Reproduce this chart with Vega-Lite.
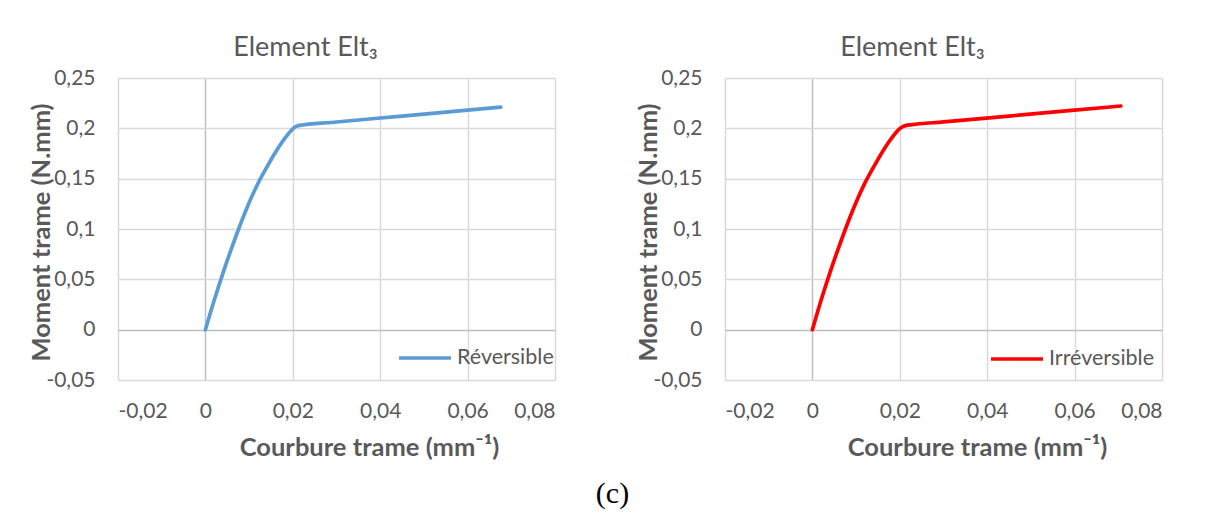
{
  "$schema": "https://vega.github.io/schema/vega-lite/v6.json",
  "background": "white",
  "padding": {"left": 29, "top": 34, "right": 5, "bottom": 5},
  "datasets": {
    "curves": [
      {"serie": "Réversible", "courbure": 0, "moment": 0},
      {"serie": "Réversible", "courbure": 0.002, "moment": 0.029},
      {"serie": "Réversible", "courbure": 0.004, "moment": 0.056},
      {"serie": "Réversible", "courbure": 0.006, "moment": 0.081},
      {"serie": "Réversible", "courbure": 0.008, "moment": 0.1045},
      {"serie": "Réversible", "courbure": 0.01, "moment": 0.126},
      {"serie": "Réversible", "courbure": 0.012, "moment": 0.145},
      {"serie": "Réversible", "courbure": 0.014, "moment": 0.161},
      {"serie": "Réversible", "courbure": 0.016, "moment": 0.176},
      {"serie": "Réversible", "courbure": 0.018, "moment": 0.189},
      {"serie": "Réversible", "courbure": 0.02, "moment": 0.1995},
      {"serie": "Réversible", "courbure": 0.0206, "moment": 0.2016},
      {"serie": "Réversible", "courbure": 0.0213, "moment": 0.2027},
      {"serie": "Réversible", "courbure": 0.0222, "moment": 0.2033},
      {"serie": "Réversible", "courbure": 0.03, "moment": 0.2063},
      {"serie": "Réversible", "courbure": 0.045, "moment": 0.2122},
      {"serie": "Réversible", "courbure": 0.06, "moment": 0.218},
      {"serie": "Réversible", "courbure": 0.0676, "moment": 0.221},
      {"serie": "Irréversible", "courbure": 0, "moment": 0},
      {"serie": "Irréversible", "courbure": 0.002, "moment": 0.0295},
      {"serie": "Irréversible", "courbure": 0.004, "moment": 0.0565},
      {"serie": "Irréversible", "courbure": 0.006, "moment": 0.0815},
      {"serie": "Irréversible", "courbure": 0.008, "moment": 0.105},
      {"serie": "Irréversible", "courbure": 0.01, "moment": 0.1265},
      {"serie": "Irréversible", "courbure": 0.012, "moment": 0.1455},
      {"serie": "Irréversible", "courbure": 0.014, "moment": 0.1615},
      {"serie": "Irréversible", "courbure": 0.016, "moment": 0.1765},
      {"serie": "Irréversible", "courbure": 0.018, "moment": 0.1895},
      {"serie": "Irréversible", "courbure": 0.0201, "moment": 0.2},
      {"serie": "Irréversible", "courbure": 0.0208, "moment": 0.2019},
      {"serie": "Irréversible", "courbure": 0.0215, "moment": 0.2029},
      {"serie": "Irréversible", "courbure": 0.0225, "moment": 0.2035},
      {"serie": "Irréversible", "courbure": 0.03, "moment": 0.2064},
      {"serie": "Irréversible", "courbure": 0.045, "moment": 0.2122},
      {"serie": "Irréversible", "courbure": 0.06, "moment": 0.2181},
      {"serie": "Irréversible", "courbure": 0.0706, "moment": 0.2222}
    ]
  },
  "title": {
    "text": "(c)",
    "orient": "bottom",
    "font": "Liberation Serif",
    "fontSize": 30,
    "fontWeight": "normal",
    "color": "black",
    "anchor": "middle",
    "dx": 17,
    "offset": 18
  },
  "config": {
    "font": "Lato",
    "view": {"stroke": null},
    "concat": {"spacing": 81},
    "title": {"font": "Lato", "fontSize": 27, "fontWeight": "normal", "color": "#595959"},
    "axis": {
      "domain": false,
      "ticks": false,
      "grid": true,
      "gridWidth": 1.5,
      "labelFont": "Lato",
      "labelFontSize": 21,
      "labelColor": "#595959",
      "titleFont": "Lato",
      "titleFontSize": 25.5,
      "titleFontWeight": "bold",
      "titleColor": "#595959",
      "labelExpr": "replace(toString(datum.value), '.', ',')"
    },
    "legend": {
      "labelFont": "Lato",
      "labelFontSize": 21.5,
      "labelColor": "#595959",
      "symbolType": "stroke",
      "symbolSize": 2700,
      "symbolStrokeWidth": 3.5,
      "labelOffset": 4,
      "padding": 0
    }
  },
  "resolve": {"scale": {"color": "independent"}, "legend": {"color": "independent"}},
  "hconcat": [
    {
      "width": 437,
      "height": 302,
      "data": {"name": "curves"},
      "transform": [{"filter": "datum.serie === 'Réversible'"}],
      "title": {"text": "Element Elt₃", "dx": -31, "offset": 5},
      "mark": {"type": "line", "strokeWidth": 3.7, "interpolate": "monotone", "strokeCap": "round"},
      "encoding": {
        "x": {
          "field": "courbure", "type": "quantitative",
          "scale": {"domain": [-0.02, 0.08], "nice": false, "zero": false},
          "axis": {
            "values": [-0.02, 0, 0.02, 0.04, 0.06, 0.08],
            "title": "Courbure trame (mm⁻¹)",
            "labelPadding": 20,
            "titleX": 251, "titleY": 67, "titleBaseline": "middle", "titleAnchor": "middle",
            "gridColor": {"condition": {"test": "datum.value === 0", "value": "#bfbfbf"}, "value": "#d9d9d9"}
          }
        },
        "y": {
          "field": "moment", "type": "quantitative",
          "scale": {"domain": [-0.05, 0.25], "nice": false, "zero": false},
          "axis": {
            "values": [-0.05, 0, 0.05, 0.1, 0.15, 0.2, 0.25],
            "title": "Moment trame  (N.mm)",
            "labelPadding": 23,
            "titleX": -77, "titleY": 154, "titleBaseline": "middle", "titleAnchor": "middle", "titleAngle": -90,
            "gridColor": {"condition": {"test": "datum.value === 0", "value": "#bfbfbf"}, "value": "#d9d9d9"}
          }
        },
        "color": {
          "field": "serie", "type": "nominal",
          "scale": {"domain": ["Réversible"], "range": ["#5B9BD5"]},
          "legend": {"title": null, "orient": "none", "legendX": 279, "legendY": 252}
        }
      }
    },
    {
      "width": 437,
      "height": 302,
      "data": {"name": "curves"},
      "transform": [{"filter": "datum.serie === 'Irréversible'"}],
      "title": {"text": "Element Elt₃", "dx": -31, "offset": 5},
      "mark": {"type": "line", "strokeWidth": 3.7, "interpolate": "monotone", "strokeCap": "round"},
      "encoding": {
        "x": {
          "field": "courbure", "type": "quantitative",
          "scale": {"domain": [-0.02, 0.08], "nice": false, "zero": false},
          "axis": {
            "values": [-0.02, 0, 0.02, 0.04, 0.06, 0.08],
            "title": "Courbure trame (mm⁻¹)",
            "labelPadding": 20,
            "titleX": 252, "titleY": 67, "titleBaseline": "middle", "titleAnchor": "middle",
            "gridColor": {"condition": {"test": "datum.value === 0", "value": "#bfbfbf"}, "value": "#d9d9d9"}
          }
        },
        "y": {
          "field": "moment", "type": "quantitative",
          "scale": {"domain": [-0.05, 0.25], "nice": false, "zero": false},
          "axis": {
            "values": [-0.05, 0, 0.05, 0.1, 0.15, 0.2, 0.25],
            "title": "Moment trame  (N.mm)",
            "labelPadding": 23,
            "titleX": -77, "titleY": 154, "titleBaseline": "middle", "titleAnchor": "middle", "titleAngle": -90,
            "gridColor": {"condition": {"test": "datum.value === 0", "value": "#bfbfbf"}, "value": "#d9d9d9"}
          }
        },
        "color": {
          "field": "serie", "type": "nominal",
          "scale": {"domain": ["Irréversible"], "range": ["#FF0000"]},
          "legend": {"title": null, "orient": "none", "legendX": 264, "legendY": 253}
        }
      }
    }
  ]
}
